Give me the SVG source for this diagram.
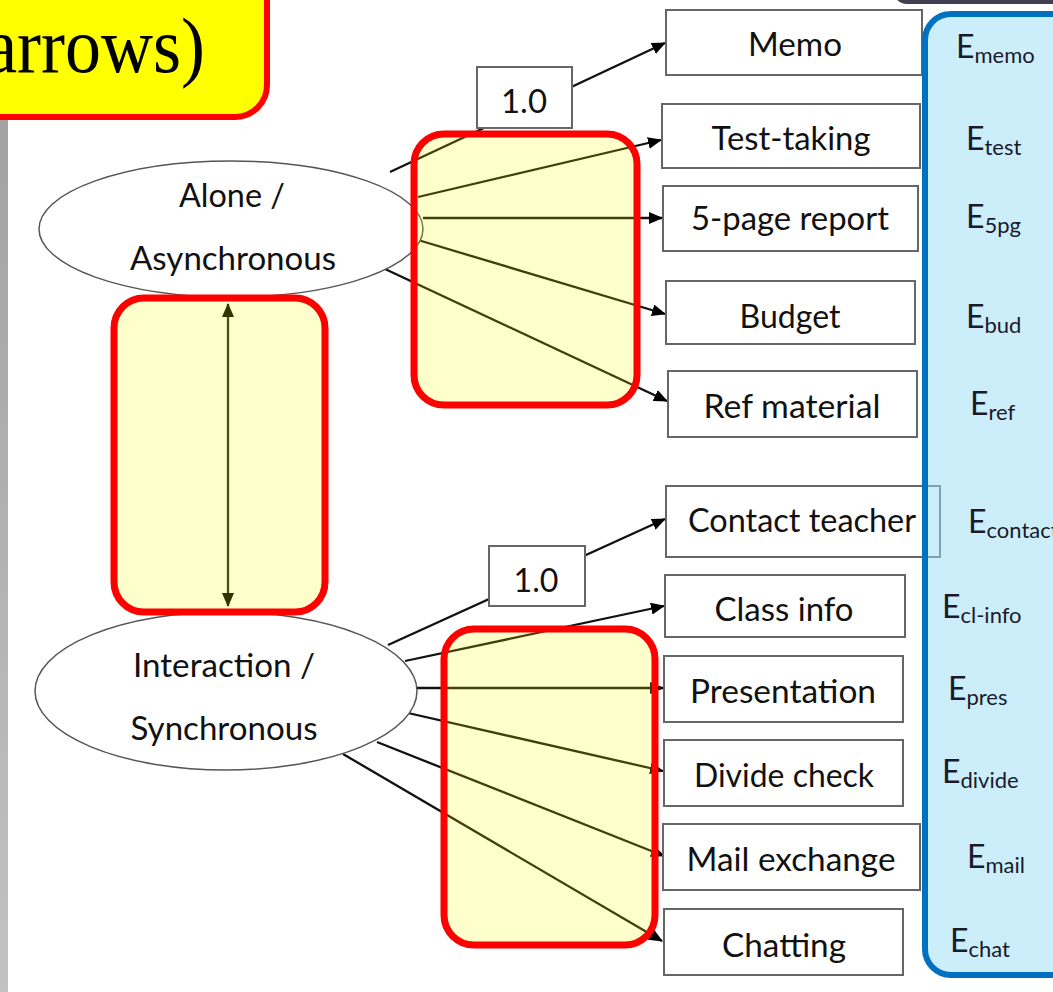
<svg xmlns="http://www.w3.org/2000/svg" width="1053" height="992" viewBox="0 0 1053 992">
<defs>
<marker id="ah" markerUnits="userSpaceOnUse" markerWidth="14" markerHeight="12" refX="13" refY="6" orient="auto-start-reverse">
<path d="M0,0 L14,6 L0,12 z" fill="#000"/>
</marker>
<linearGradient id="gbar" x1="0" y1="0" x2="0" y2="1">
<stop offset="0" stop-color="#a2a2a2"/>
<stop offset="1" stop-color="#c2c2c2"/>
</linearGradient>
<style>
.lbl{font-family:Lato,"Liberation Sans",sans-serif;font-size:32px;fill:#111;text-anchor:middle}
.el{fill:#fff;stroke:#555;stroke-width:1.5}
.bx{fill:#fff;stroke:#666;stroke-width:2}
.cn{stroke:#111;stroke-width:2.3;fill:none}
.ar{marker-end:url(#ah)}
.hl{fill:#FFFF00;fill-opacity:0.2;stroke:#FF0000;stroke-width:7}
.ev{font-family:Lato,"Liberation Sans",sans-serif;font-size:32px;fill:#1a1a2a}
.sub{font-size:22px}
</style>
</defs>
<rect width="1053" height="992" fill="#fff"/>
<rect x="0" y="116" width="8" height="876" fill="url(#gbar)"/>
<rect x="893" y="-40" width="200" height="44" rx="14" fill="#404052"/>
<g id="title">
<rect x="-40" y="-40" width="307" height="157" rx="32" fill="#FFFF00" stroke="#FF0000" stroke-width="6"/>
<text x="205" y="72" transform="translate(0,72) scale(1,1.1) translate(0,-72)" font-family="'Liberation Serif',serif" font-size="72" text-anchor="end" fill="#000">arrows)</text>
</g>
<g id="connectors">
<line class="cn ar" x1="390" y1="172" x2="665" y2="43"/>
<line class="cn ar" x1="418" y1="197" x2="661" y2="140"/>
<line class="cn ar" x1="423" y1="218" x2="662" y2="218"/>
<line class="cn ar" x1="418" y1="240" x2="665" y2="314"/>
<line class="cn ar" x1="385" y1="269" x2="667" y2="401"/>
<line class="cn ar" x1="388" y1="645" x2="665" y2="519"/>
<line class="cn ar" x1="405" y1="661" x2="664" y2="606"/>
<line class="cn ar" x1="417" y1="688" x2="663" y2="688"/>
<line class="cn ar" x1="408" y1="713" x2="663" y2="771"/>
<line class="cn ar" x1="377" y1="742" x2="664" y2="856"/>
<line class="cn ar" x1="343" y1="754" x2="662" y2="941"/>
<line stroke="#222" stroke-width="2.3" x1="228" y1="304" x2="228" y2="606" marker-start="url(#ah)" marker-end="url(#ah)"/>
</g>
<g id="n-alone">
<ellipse class="el" cx="231" cy="229" rx="192" ry="68"/>
<text class="lbl" x="232" y="207" textLength="106" lengthAdjust="spacingAndGlyphs">Alone /</text>
<text class="lbl" x="233" y="270" textLength="206" lengthAdjust="spacingAndGlyphs">Asynchronous</text>
</g>
<g id="n-inter">
<ellipse class="el" cx="226" cy="691" rx="191" ry="79"/>
<text class="lbl" x="224" y="677" textLength="182" lengthAdjust="spacingAndGlyphs">Interaction /</text>
<text class="lbl" x="224" y="740" textLength="187" lengthAdjust="spacingAndGlyphs">Synchronous</text>
</g>
<g id="w1"><rect class="bx" x="477" y="67" width="95" height="61"/><text class="lbl" x="524" y="113" textLength="46" lengthAdjust="spacingAndGlyphs">1.0</text></g>
<g id="w2"><rect class="bx" x="489" y="546" width="96" height="60"/><text class="lbl" x="536" y="592" textLength="45" lengthAdjust="spacingAndGlyphs">1.0</text></g>
<g id="memo"><rect class="bx" x="666" y="10" width="256" height="65"/><text class="lbl" x="795" y="56" textLength="94" lengthAdjust="spacingAndGlyphs">Memo</text></g>
<g id="test"><rect class="bx" x="662" y="104" width="258" height="64"/><text class="lbl" x="791" y="150" textLength="159" lengthAdjust="spacingAndGlyphs">Test-taking</text></g>
<g id="report"><rect class="bx" x="663" y="186" width="255" height="65"/><text class="lbl" x="790" y="230" textLength="198" lengthAdjust="spacingAndGlyphs">5-page report</text></g>
<g id="budget"><rect class="bx" x="666" y="281" width="249" height="63"/><text class="lbl" x="790" y="328" textLength="101" lengthAdjust="spacingAndGlyphs">Budget</text></g>
<g id="ref"><rect class="bx" x="668" y="371" width="249" height="66"/><text class="lbl" x="792" y="418" textLength="177" lengthAdjust="spacingAndGlyphs">Ref material</text></g>
<g id="contact"><rect class="bx" x="666" y="486" width="274" height="71"/><text class="lbl" x="802" y="532" textLength="228" lengthAdjust="spacingAndGlyphs">Contact teacher</text></g>
<g id="classinfo"><rect class="bx" x="665" y="575" width="240" height="62"/><text class="lbl" x="784" y="621" textLength="139" lengthAdjust="spacingAndGlyphs">Class info</text></g>
<g id="pres"><rect class="bx" x="664" y="656" width="239" height="66"/><text class="lbl" x="783" y="703" textLength="186" lengthAdjust="spacingAndGlyphs">Presentation</text></g>
<g id="divide"><rect class="bx" x="664" y="740" width="239" height="66"/><text class="lbl" x="784" y="787" textLength="180" lengthAdjust="spacingAndGlyphs">Divide check</text></g>
<g id="mail"><rect class="bx" x="663" y="824" width="257" height="66"/><text class="lbl" x="791" y="871" textLength="209" lengthAdjust="spacingAndGlyphs">Mail exchange</text></g>
<g id="chat"><rect class="bx" x="664" y="909" width="239" height="66"/><text class="lbl" x="784" y="957" textLength="124" lengthAdjust="spacingAndGlyphs">Chatting</text></g>
<g id="hl-top"><rect class="hl" x="414" y="134" width="223" height="271" rx="30"/></g>
<g id="hl-left"><rect class="hl" x="114" y="298" width="211" height="314" rx="30"/></g>
<g id="hl-bottom"><rect class="hl" x="444" y="629" width="211" height="316" rx="30"/></g>
<g id="evals">
<rect x="925" y="14" width="160" height="961" rx="26" fill="#99DDF5" fill-opacity="0.5" stroke="#0070C0" stroke-width="6"/>
<text class="ev" x="956" y="58">E<tspan class="sub" dy="5">memo</tspan></text>
<text class="ev" x="966" y="150">E<tspan class="sub" dy="5">test</tspan></text>
<text class="ev" x="966" y="228">E<tspan class="sub" dy="5">5pg</tspan></text>
<text class="ev" x="966" y="328">E<tspan class="sub" dy="5">bud</tspan></text>
<text class="ev" x="970" y="415">E<tspan class="sub" dy="5">ref</tspan></text>
<text class="ev" x="968" y="533">E<tspan class="sub" dy="5">contact</tspan></text>
<text class="ev" x="942" y="618">E<tspan class="sub" dy="5">cl-info</tspan></text>
<text class="ev" x="948" y="700">E<tspan class="sub" dy="5">pres</tspan></text>
<text class="ev" x="942" y="783">E<tspan class="sub" dy="5">divide</tspan></text>
<text class="ev" x="967" y="868">E<tspan class="sub" dy="5">mail</tspan></text>
<text class="ev" x="950" y="952">E<tspan class="sub" dy="5">chat</tspan></text>
</g>
</svg>
